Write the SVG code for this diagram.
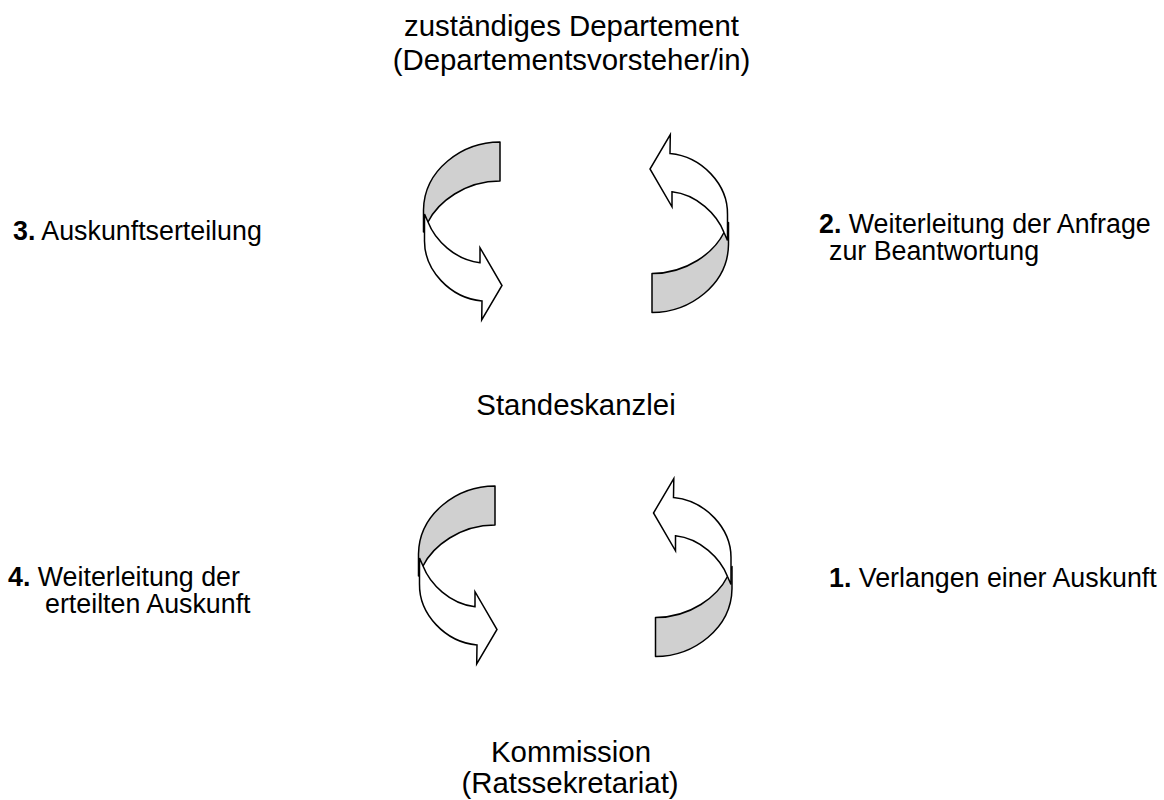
<svg xmlns="http://www.w3.org/2000/svg" xmlns:xlink="http://www.w3.org/1999/xlink" width="1164" height="800" viewBox="0 0 1164 800">
  <style>
    .bg { fill: #ffffff; }
    .txt { font-family: "Liberation Sans", Arial, sans-serif; fill: #000000; }
    .node { font-size: 29.4px; }
    .label { font-size: 26.8px; }
    .num { font-weight: bold; }
    .back { fill: #d0d0d0; stroke: #000000; stroke-width: 1.5; stroke-linejoin: round; }
    .front { fill: #ffffff; stroke: #000000; stroke-width: 1.5; stroke-linejoin: miter; }
  </style>
  <defs>
    <!-- curled ribbon arrow: shaded back band on top, white front band ending in an arrowhead -->
    <g id="curl">
      <path class="back" d="M 500,142 C 462,142 424,170 423.5,210 L 423.5,232 L 428,222 C 438,202 465,181 500,181 Z"/>
      <path class="front" d="M 428,222 C 435,240 455,260 480,262.7 L 480,247.7 L 502,285.5 L 481.7,320 L 482,301 C 450,298 424,270 424.5,240 L 424.5,214 Z"/>
    </g>
  </defs>

  <rect class="bg" x="0" y="0" width="1164" height="800"/>

  <g id="connectors">
    <use id="arrow-3" xlink:href="#curl"/>
    <use id="arrow-2" xlink:href="#curl" transform="translate(1152,454.5) rotate(180)"/>
    <use id="arrow-4" xlink:href="#curl" transform="translate(-5,344)"/>
    <use id="arrow-1" xlink:href="#curl" transform="translate(1155.5,798.5) rotate(180)"/>
  </g>

  <g id="node-departement">
    <text class="txt node" x="571.5" y="36" text-anchor="middle" font-size="30.2">zuständiges Departement</text>
    <text class="txt node" x="571.5" y="70" text-anchor="middle" font-size="30.2">(Departementsvorsteher/in)</text>
  </g>

  <g id="node-standeskanzlei">
    <text class="txt node" x="576" y="415" text-anchor="middle" font-size="27">Standeskanzlei</text>
  </g>

  <g id="node-kommission">
    <text class="txt node" x="571" y="762" text-anchor="middle">Kommission</text>
    <text class="txt node" x="570" y="793" text-anchor="middle">(Ratssekretariat)</text>
  </g>

  <g id="label-1">
    <text class="txt label" x="829" y="587"><tspan class="num">1.</tspan> Verlangen einer Auskunft</text>
  </g>

  <g id="label-2">
    <text class="txt label" x="819" y="233"><tspan class="num">2.</tspan> Weiterleitung der Anfrage</text>
    <text class="txt label" x="829" y="260">zur Beantwortung</text>
  </g>

  <g id="label-3">
    <text class="txt label" x="13" y="240"><tspan class="num">3.</tspan> Auskunftserteilung</text>
  </g>

  <g id="label-4">
    <text class="txt label" x="8" y="586"><tspan class="num">4.</tspan> Weiterleitung der</text>
    <text class="txt label" x="45" y="613">erteilten Auskunft</text>
  </g>
</svg>
